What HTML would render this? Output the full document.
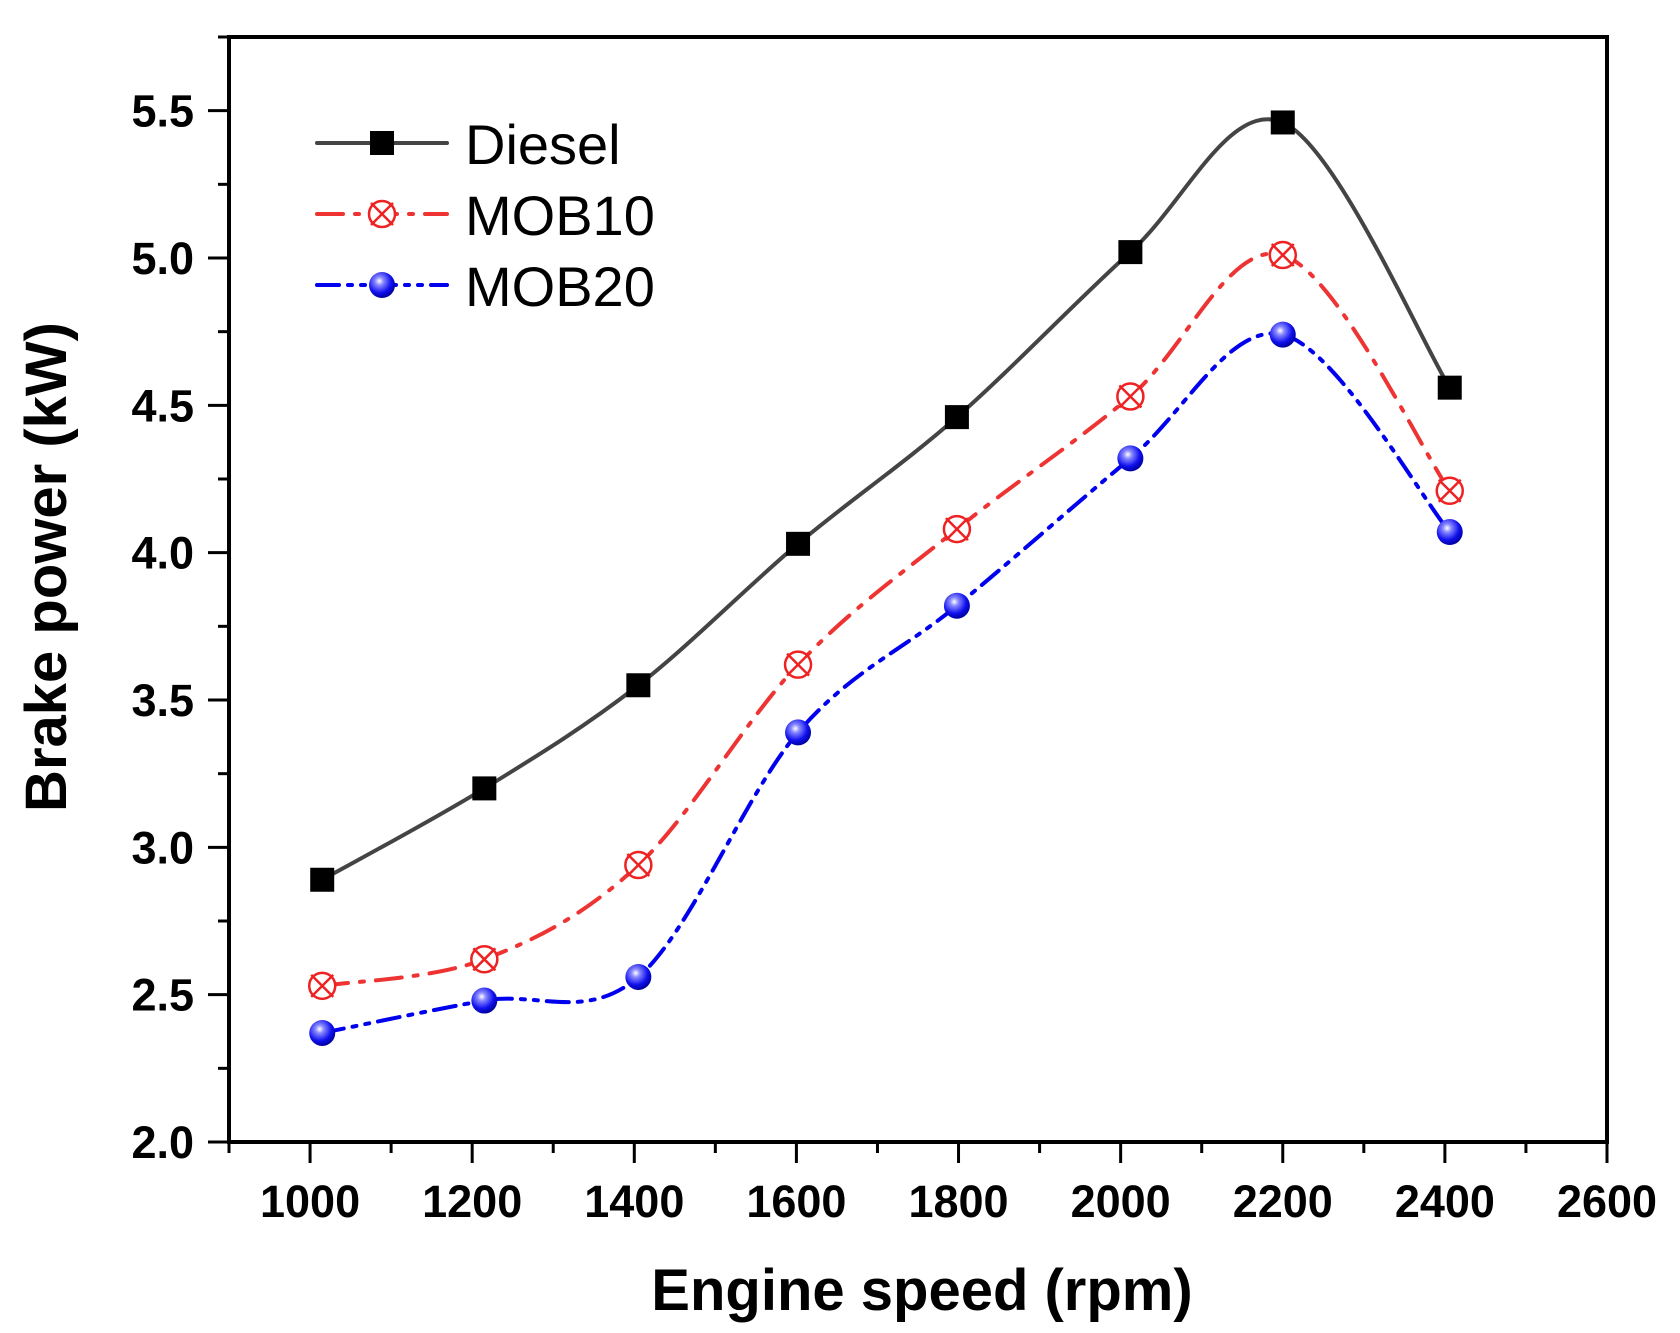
<!DOCTYPE html>
<html><head><meta charset="utf-8"><style>
html,body{margin:0;padding:0;background:#fff}
svg{display:block}
text{font-family:"Liberation Sans",Arial,sans-serif}
</style></head><body>
<svg id="chart" width="1680" height="1333" viewBox="0 0 1680 1333" xmlns="http://www.w3.org/2000/svg">
<defs>
<radialGradient id="ball" cx="0.4" cy="0.35" r="0.65">
<stop offset="0" stop-color="#ffffff"/><stop offset="0.25" stop-color="#8888ff"/><stop offset="0.7" stop-color="#1010ee"/><stop offset="1" stop-color="#0000a0"/>
</radialGradient>
</defs>
<g id="axes"></g>
<g id="series"></g>
<g id="legend"></g>
</svg>
<script>
const speeds = [1015, 1215, 1405, 1602, 1798, 2012, 2200, 2406];
const diesel = [2.89, 3.20, 3.55, 4.03, 4.46, 5.02, 5.46, 4.56];
const mob10 = [2.53, 2.62, 2.94, 3.62, 4.08, 4.53, 5.01, 4.21];
const mob20 = [2.37, 2.48, 2.56, 3.39, 3.82, 4.32, 4.74, 4.07];
const xTicks = [1000, 1200, 1400, 1600, 1800, 2000, 2200, 2400, 2600];
const yTicks = [2.0, 2.5, 3.0, 3.5, 4.0, 4.5, 5.0, 5.5];
const seriesNames = ["Diesel", "MOB10", "MOB20"];

const NS = "http://www.w3.org/2000/svg";
const L = 229, R = 1607, T = 37, B = 1142;
const xMin = 900, xMax = 2600, yMin = 2.0, yMax = 5.75;
function X(v){ return L + (v - xMin) / (xMax - xMin) * (R - L); }
function Y(v){ return B - (v - yMin) / (yMax - yMin) * (B - T); }
function mk(tag, attrs, parent){ const e = document.createElementNS(NS, tag); for (const k in attrs) e.setAttribute(k, attrs[k]); parent.appendChild(e); return e; }

const axes = document.getElementById('axes');
const frame = mk('rect', {x:L, y:T, width:R-L, height:B-T, fill:'none', stroke:'#000', 'stroke-width':4}, axes);



for (let v = xMin; v <= xMax; v += 100) {
  const major = xTicks.includes(v);
  const t = mk('line', {x1:X(v), x2:X(v), y1:B, y2:B + (major ? 21 : 11), stroke:'#000', 'stroke-width':3}, axes);
  
  
}
xTicks.forEach(v => {
  const t = mk('text', {x:X(v), y:1217, 'text-anchor':'middle', 'font-size':45, 'font-weight':'bold'}, axes);
  t.textContent = v;
  
  
});
for (let v = yMin; v <= yMax + 1e-9; v += 0.25) {
  const major = Math.abs(v * 2 - Math.round(v * 2)) < 1e-6;
  const t = mk('line', {x1:L, x2:L - (major ? 21 : 11), y1:Y(v), y2:Y(v), stroke:'#000', 'stroke-width':3}, axes);
  
  
}
yTicks.forEach(v => {
  const t = mk('text', {x:194, y:Y(v) + 16, 'text-anchor':'end', 'font-size':45, 'font-weight':'bold'}, axes);
  t.textContent = v.toFixed(1);
  
  
});
const xt = mk('text', {x:922, y:1310, 'text-anchor':'middle', 'font-size':58, 'font-weight':'bold'}, axes);
xt.textContent = 'Engine speed (rpm)';


const yt = mk('text', {x:0, y:0, 'text-anchor':'middle', 'font-size':58, 'font-weight':'bold', transform:'translate(66,567) rotate(-90)'}, axes);
yt.textContent = 'Brake power (kW)';



function smoothPath(pts){
  let d = `M${pts[0][0]},${pts[0][1]}`;
  for (let i = 0; i < pts.length - 1; i++) {
    const p0 = pts[Math.max(0, i-1)], p1 = pts[i], p2 = pts[i+1], p3 = pts[Math.min(pts.length-1, i+2)];
    const c1 = [p1[0] + (p2[0]-p0[0])/6, p1[1] + (p2[1]-p0[1])/6];
    const c2 = [p2[0] - (p3[0]-p1[0])/6, p2[1] - (p3[1]-p1[1])/6];
    d += ` C${c1[0]},${c1[1]} ${c2[0]},${c2[1]} ${p2[0]},${p2[1]}`;
  }
  return d;
}
const styles = [
  {color:'#444444', dash:'', marker:'square'},
  {color:'#ee3333', dash:'26,12,4,12', marker:'xcircle'},
  {color:'#0000ee', dash:'22,9,4,9,4,9', marker:'ball'}
];
function drawMarker(kind, cx, cy, parent){
  let m;
  if (kind === 'square') m = mk('rect', {x:cx-12, y:cy-12, width:24, height:24, fill:'#000'}, parent);
  else if (kind === 'xcircle') {
    m = mk('g', {}, parent);
    mk('circle', {cx, cy, r:13, fill:'#fff', stroke:'#ee2222', 'stroke-width':2.5}, m);
    mk('line', {x1:cx-11, y1:cy-11, x2:cx+11, y2:cy+11, stroke:'#ee2222', 'stroke-width':2.5}, m);
    mk('line', {x1:cx-11, y1:cy+11, x2:cx+11, y2:cy-11, stroke:'#ee2222', 'stroke-width':2.5}, m);
  } else m = mk('circle', {cx, cy, r:13, fill:'url(#ball)'}, parent);
  return m;
}
const sg = document.getElementById('series');
[diesel, mob10, mob20].forEach((vals, si) => {
  const st = styles[si];
  const pts = speeds.map((s, i) => [X(s), Y(vals[i])]);
  const p = mk('path', {d:smoothPath(pts), fill:'none', stroke:st.color, 'stroke-width':4, 'stroke-dasharray':st.dash, 'stroke-linecap':'round'}, sg);
  
  
  pts.forEach(pt => {
    const m = drawMarker(st.marker, pt[0], pt[1], sg);
    
    
  });
});
const lg = document.getElementById('legend');
seriesNames.forEach((n, i) => {
  const st = styles[i];
  const y = 143 + i * 71;
  const g = mk('g', {}, lg);
  
  
  mk('line', {x1:317, x2:447, y1:y, y2:y, stroke:st.color, 'stroke-width':4, 'stroke-dasharray':st.dash, 'stroke-linecap':'round'}, g);
  drawMarker(st.marker, 382, y, g);
  const t = mk('text', {x:465, y:y + 21, 'font-size':56}, g);
  t.textContent = n;
});
</script>
</body></html>
